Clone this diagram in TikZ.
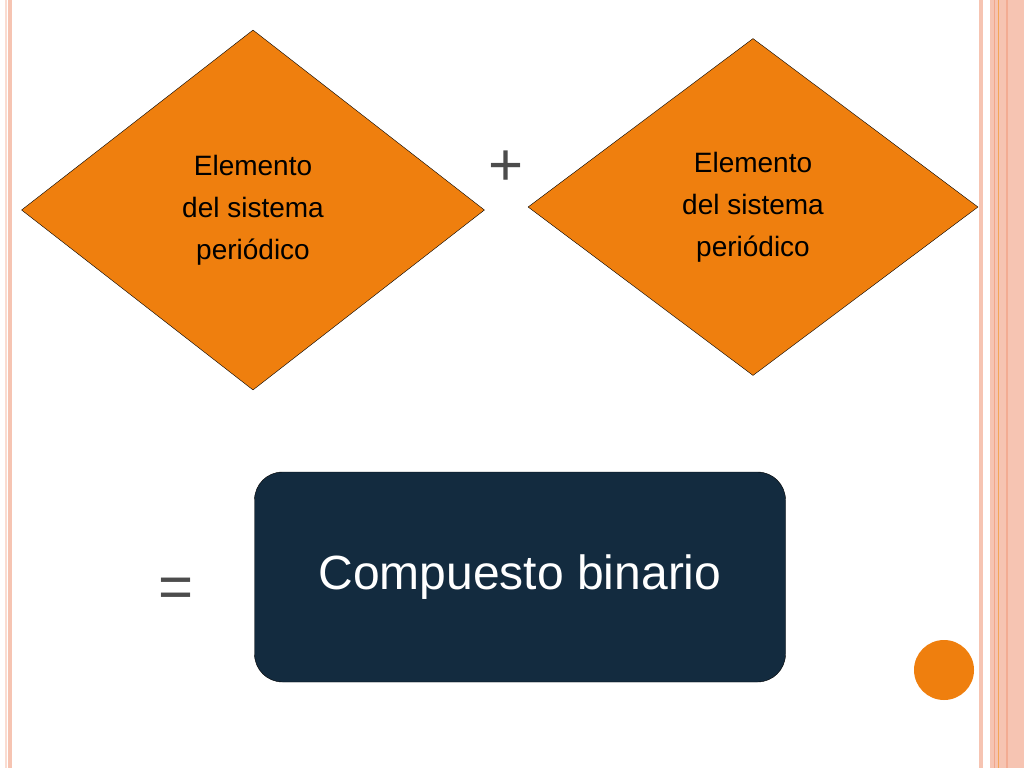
\documentclass[tikz,border=0pt]{standalone}
\usepackage{fontspec}
\setmainfont{Liberation Sans}
\usetikzlibrary{shapes.geometric}
\definecolor{salmon}{HTML}{F6C4B2}
\definecolor{rombo}{HTML}{EF7F0E}
\definecolor{caja}{HTML}{132B3F}
\begin{document}
\begin{tikzpicture}[x=1pt,y=-1pt,
    elemento/.style={diamond, draw=black, fill=rombo, align=center, inner sep=0pt,
        font=\fontsize{28}{36}\selectfont},
    signo/.style={text=gray!60!black, font=\fontsize{60}{60}\selectfont}]
    \useasboundingbox[fill=white] (0,0) rectangle (1024,768);
    % bordes
    \fill[salmon] (8,0) rectangle (12,768);
    \fill[salmon!60] (5,0) rectangle (7,768);
    \fill[salmon] (979,0) rectangle (983,768);
    \fill[salmon] (990,0) rectangle (1024,768);
    \fill[salmon!150] (994,0) rectangle (995,768);
    \fill[rombo!70] (998,0) rectangle (999,768);
    \fill[salmon!140] (1006,0) rectangle (1008,768);

    \node[elemento, minimum width=463pt, minimum height=360pt] (e1) at (253,210)
        {Elemento\\[6pt]del sistema\\[6pt]periódico};
    \node[elemento, minimum width=450pt, minimum height=337pt] (e2) at (753,207)
        {Elemento\\[6pt]del sistema\\[6pt]periódico};
    \node[signo] (mas) at (506,168) {+};
    \node[signo] (igual) at (176,593) {=};
    \node[draw=black, fill=caja, rounded corners=28pt, minimum width=531pt,
        minimum height=210pt, text=white, font=\fontsize{48}{56}\selectfont]
        (comp) at (520,577) {Compuesto binario};
    \node[circle, fill=rombo, minimum size=60pt] (punto) at (944,670) {};
\end{tikzpicture}
\end{document}
